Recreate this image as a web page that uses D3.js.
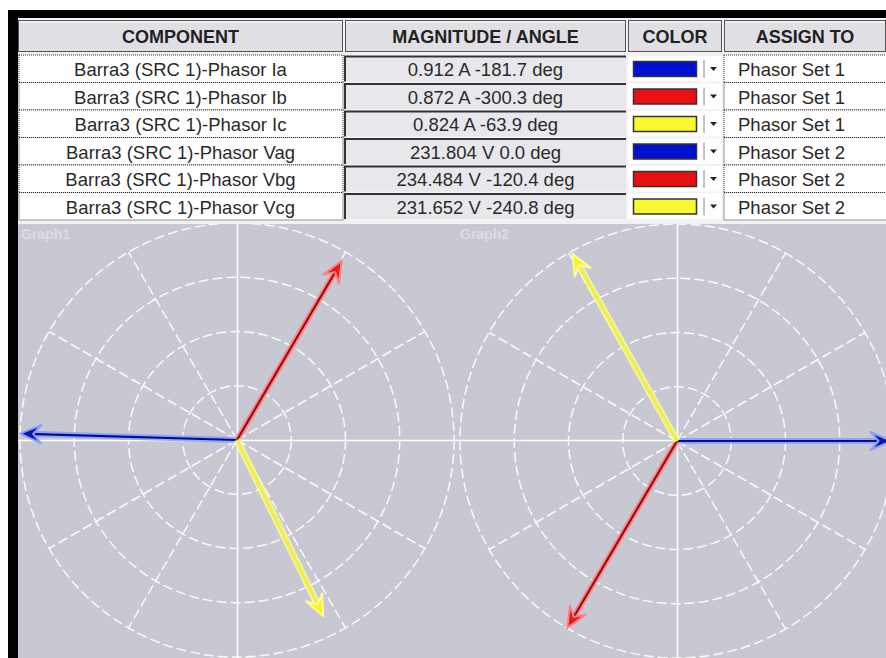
<!DOCTYPE html>
<meta charset="utf-8">
<style>
body { margin: 0; background: #fff; }
svg { display: block; font-family: "Liberation Sans", Arial, sans-serif; }
.hdr text { font-weight: bold; font-size: 18px; fill: #222; }
.rows text { font-size: 18.5px; fill: #2a2a2a; }
.grid circle, .grid .spoke { fill: none; stroke: #fff; stroke-width: 1.5; stroke-dasharray: 10,4; opacity: 0.9; }
.grid .axis { stroke: #fff; stroke-width: 1.6; }
.glabel { font-size: 14px; font-weight: bold; fill: #dcdce6; }
</style>
<svg width="886" height="658"></svg>
<script src="https://cdn.jsdelivr.net/npm/d3@7"></script>
<script>

// table data
var headers = ["COMPONENT", "MAGNITUDE / ANGLE", "COLOR", "ASSIGN TO"];
var components = ["Barra3 (SRC 1)-Phasor Ia", "Barra3 (SRC 1)-Phasor Ib", "Barra3 (SRC 1)-Phasor Ic",
                  "Barra3 (SRC 1)-Phasor Vag", "Barra3 (SRC 1)-Phasor Vbg", "Barra3 (SRC 1)-Phasor Vcg"];
var magnitudes = [0.912, 0.872, 0.824, 231.804, 234.484, 231.652];
var units = ["A", "A", "A", "V", "V", "V"];
var angles = [-181.7, -300.3, -63.9, 0.0, -120.4, -240.8];
var colors = ["blue", "red", "yellow", "blue", "red", "yellow"];
var assignTo = ["Phasor Set 1", "Phasor Set 1", "Phasor Set 1", "Phasor Set 2", "Phasor Set 2", "Phasor Set 2"];
var graphNames = ["Graph1", "Graph2"];

var swatch = { blue: "#0010d0", red: "#e81010", yellow: "#f8f830" };
var core = { blue: "#00108a", red: "#9a0a10", yellow: "#eeee50" };
var halo = { blue: "#8c9cff", red: "#ff8080", yellow: "#fbfba0" };
var head = { blue: "#0a1aa0", red: "#e41a1a", yellow: "#f4f420" };

var svg = d3.select("svg"),
    W = +svg.attr("width"),
    H = +svg.attr("height");

// black frame
svg.append("rect").attr("x", 8).attr("y", 10).attr("width", W - 8).attr("height", H - 10).attr("fill", "#000");
svg.append("rect").attr("x", 18).attr("y", 18).attr("width", W - 18).attr("height", 206).attr("fill", "#f2f2f4");

var cols = [[18, 343], [345, 626], [628, 722], [724, 886]];
var hdrY = 20, hdrH = 32, rowY = 55, rowH = 27.5;

// header
var hdr = svg.append("g").attr("class", "hdr");
headers.forEach(function(h, i) {
  var c = cols[i];
  hdr.append("rect").attr("x", c[0] + 0.5).attr("y", hdrY + 0.5)
     .attr("width", c[1] - c[0] - 1).attr("height", hdrH - 1)
     .attr("fill", "#e0e0e4").attr("stroke", "#555").attr("stroke-width", 1);
  hdr.append("line").attr("x1", c[0] + 1).attr("x2", c[1] - 1).attr("y1", hdrY + 2).attr("y2", hdrY + 2)
     .attr("stroke", "#fff");
  hdr.append("text").attr("x", (c[0] + c[1]) / 2).attr("y", hdrY + 23)
     .attr("text-anchor", "middle").text(h);
});

// rows
var rows = svg.append("g").attr("class", "rows");
var fmtMag = function(v) { return v.toFixed(3); }, fmtAng = function(v) { return v.toFixed(1); };
components.forEach(function(name, i) {
  var y = rowY + i * rowH;
  var g = rows.append("g");
  // component cell
  g.append("rect").attr("x", cols[0][0] + 1).attr("y", y).attr("width", cols[0][1] - cols[0][0] - 1).attr("height", rowH)
   .attr("fill", "#fff").attr("stroke", "#333").attr("stroke-dasharray", "1,1");
  g.append("text").attr("x", (cols[0][0] + cols[0][1]) / 2).attr("y", y + 21).attr("text-anchor", "middle").text(name);
  // magnitude cell (sunken)
  g.append("rect").attr("x", cols[1][0]).attr("y", y + 1).attr("width", cols[1][1] - cols[1][0]).attr("height", rowH - 2)
   .attr("fill", "#e8e8ec");
  g.append("path").attr("d", "M" + cols[1][0] + "," + (y + rowH - 1) + "V" + (y + 1.5) + "H" + cols[1][1])
   .attr("fill", "none").attr("stroke", "#333").attr("stroke-width", 2);
  g.append("text").attr("x", (cols[1][0] + cols[1][1]) / 2).attr("y", y + 21).attr("text-anchor", "middle")
   .text(fmtMag(magnitudes[i]) + " " + units[i] + " " + fmtAng(angles[i]) + " deg");
  // color cell
  g.append("rect").attr("x", cols[2][0]).attr("y", y + 1).attr("width", cols[2][1] - cols[2][0]).attr("height", rowH - 2)
   .attr("fill", "#fff");
  g.append("rect").attr("x", 633.5).attr("y", y + 6.5).attr("width", 63).attr("height", 15)
   .attr("fill", swatch[colors[i]]).attr("stroke", "#333").attr("stroke-width", 1.5);
  g.append("line").attr("x1", 704).attr("x2", 704).attr("y1", y + 5).attr("y2", y + 23).attr("stroke", "#888");
  g.append("path").attr("d", "M710," + (y + 12) + "h7l-3.5,4z").attr("fill", "#222");
  // assign cell
  g.append("rect").attr("x", cols[3][0]).attr("y", y).attr("width", cols[3][1] - cols[3][0] + 2).attr("height", rowH)
   .attr("fill", "#fff").attr("stroke", "#333").attr("stroke-dasharray", "1,1");
  g.append("text").attr("x", cols[3][0] + 14).attr("y", y + 21).text(assignTo[i]);
});

// graph area
var gTop = 224;
svg.append("rect").attr("x", 18).attr("y", gTop).attr("width", W - 18).attr("height", H - gTop).attr("fill", "#c8c8d2");
svg.append("clipPath").attr("id", "clip").append("rect")
   .attr("x", 18).attr("y", gTop).attr("width", W - 18).attr("height", H - gTop);

var area = svg.append("g").attr("clip-path", "url(#clip)");
var centers = [[237, 440], [677, 441]];
var R = 217;

// horizontal axis across both graphs
area.append("line").attr("x1", 18).attr("x2", W).attr("y1", 440.5).attr("y2", 440.5)
    .attr("stroke", "#fff").attr("stroke-width", 1.6);

graphNames.forEach(function(gname, gi) {
  var cx = centers[gi][0], cy = centers[gi][1];
  var idx = d3.range(gi * 3, gi * 3 + 3);
  var r = d3.scaleLinear().domain([0, d3.max(idx, function(i) { return magnitudes[i]; })]).range([0, R]);
  var grid = area.append("g").attr("class", "grid");

  grid.selectAll("circle").data([0.25, 0.5, 0.75, 1]).enter().append("circle")
      .attr("cx", cx).attr("cy", cy)
      .attr("r", function(d) { return d * R; });

  grid.selectAll(".spoke").data(d3.range(0, 360, 30).filter(function(a) { return a % 90 !== 0; }))
      .enter().append("line").attr("class", "spoke")
      .attr("x1", cx).attr("y1", cy)
      .attr("x2", function(a) { return cx + R * Math.cos(a * Math.PI / 180); })
      .attr("y2", function(a) { return cy - R * Math.sin(a * Math.PI / 180); });

  grid.append("line").attr("class", "axis").attr("x1", cx + 0.5).attr("x2", cx + 0.5).attr("y1", gTop).attr("y2", H);

  area.append("text").attr("class", "glabel").attr("x", gi ? 460 : 21).attr("y", gTop + 15).text(gname);

  // phasors
  idx.forEach(function(i) {
    var a = angles[i] * Math.PI / 180, len = r(magnitudes[i]);
    var tx = cx + len * Math.cos(a), ty = cy - len * Math.sin(a);
    var ux = Math.cos(a), uy = -Math.sin(a);
    var c = colors[i];
    var ph = area.append("g");
    ph.append("line").attr("x1", cx).attr("y1", cy).attr("x2", tx - ux * 8).attr("y2", ty - uy * 8)
      .attr("stroke", halo[c]).attr("stroke-width", c === "yellow" ? 7 : 6).attr("opacity", 0.85);
    ph.append("line").attr("x1", cx).attr("y1", cy).attr("x2", tx - ux * 8).attr("y2", ty - uy * 8)
      .attr("stroke", core[c]).attr("stroke-width", c === "yellow" ? 3.5 : 2.2);
    // arrow head
    var hl = 21, hw = 9, nl = 13;
    var px = -uy, py = ux;
    var pts = [
      [tx, ty],
      [tx - ux * hl + px * hw, ty - uy * hl + py * hw],
      [tx - ux * nl, ty - uy * nl],
      [tx - ux * hl - px * hw, ty - uy * hl - py * hw]
    ];
    ph.append("path").attr("d", d3.line()(pts) + "Z")
      .attr("fill", head[c]).attr("stroke", halo[c]).attr("stroke-width", 2).attr("stroke-linejoin", "round");
  });
});

</script>
